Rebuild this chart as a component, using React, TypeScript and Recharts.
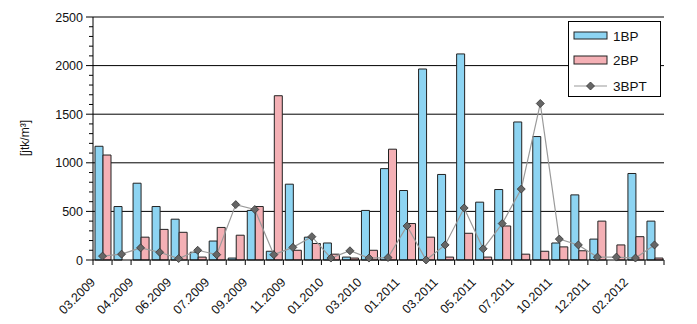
import { Bar, CartesianGrid, ComposedChart, Line, XAxis, YAxis } from "recharts"

// tick labels: only every second sampling is labelled on the axis
const tickLabels = [
  "03.2009", "04.2009", "06.2009", "07.2009", "09.2009", "11.2009", "01.2010", "03.2010",
  "01.2011", "03.2011", "05.2011", "07.2011", "10.2011", "12.2011", "02.2012",
]
const categories = Array.from({ length: 30 }, (_, i) => (i % 2 === 0 ? tickLabels[i / 2] : ""))

const bp1 = [1170, 550, 790, 550, 420, 80, 195, 20, 510, 90, 780, 235, 175, 30, 510, 940, 715, 1965, 880, 2120, 595, 725, 1420, 1270, 175, 670, 215, 0, 890, 400]
const bp2 = [1080, 0, 235, 315, 285, 30, 335, 255, 550, 1690, 100, 170, 60, 20, 100, 1140, 375, 235, 30, 275, 30, 350, 60, 90, 135, 95, 400, 155, 240, 20]
const bpt3 = [40, 60, 125, 80, 15, 100, 55, 570, 520, 55, 130, 240, 20, 95, 20, 25, 350, 0, 155, 535, 115, 375, 730, 1610, 215, 155, 30, 30, 20, 155]

const yTicks = Array.from({ length: 26 }, (_, i) => i * 100)
const gridValues = [500, 1000, 1500, 2000, 2500]

const BLUE = "#8dd4f2"
const PINK = "#f4b0b5"
const FONT = "'Liberation Sans Narrow', 'Arial Narrow', 'Liberation Sans', Arial, sans-serif"

const data = categories.map((c, i) => ({ cat: c, bp1: bp1[i], bp2: bp2[i], bpt3: bpt3[i] }))

const XTick = (props: any) => {
  const { x, y, payload, index } = props
  const half = payload?.offset || 9.5
  const bx = x - half
  const ty = y + 23
  return (
    <g>
      <line x1={bx} y1={y} x2={bx} y2={y + 5} stroke="#000" />
      {index === categories.length - 1 && (
        <line x1={x + half} y1={y} x2={x + half} y2={y + 5} stroke="#000" />
      )}
      {payload.value && (
        <text
          x={bx + 3}
          y={ty}
          textAnchor="end"
          fontSize={12.5}
          fill="#111"
          transform={`rotate(-45 ${bx + 3} ${ty})`}
        >
          {payload.value}
        </text>
      )}
    </g>
  )
}

const YTick = (props: any) => {
  const { x, y, payload } = props
  const major = payload.value % 500 === 0
  return (
    <g>
      <line x1={x - (major ? 7 : 4)} y1={y} x2={x} y2={y} stroke="#000" />
      {major && (
        <text x={x - 10} y={y + 4.5} textAnchor="end" fontSize={12.5} fill="#111">
          {payload.value}
        </text>
      )}
    </g>
  )
}

const Diamond = (props: any) => {
  const { cx, cy, index } = props
  if (cx == null || cy == null) return <g key={index} />
  const r = 4
  return (
    <polygon
      key={index}
      points={`${cx},${cy - r} ${cx + r},${cy} ${cx},${cy + r} ${cx - r},${cy}`}
      fill="#666"
      stroke="#333"
      strokeWidth={0.8}
    />
  )
}

const LegendBox = () => (
  <div
    style={{
      position: "absolute",
      left: 568,
      top: 21,
      border: "1px solid #000",
      background: "#fff",
      width: 93,
      height: 76,
      boxSizing: "border-box",
    }}
  >
    <svg width={91} height={74} style={{ display: "block", fontFamily: FONT }}>
      <rect x={5} y={10} width={33} height={7} fill={BLUE} stroke="#222" />
      <text x={44} y={19} fontSize={13.5} fill="#111">1BP</text>
      <rect x={5} y={34} width={33} height={8} fill={PINK} stroke="#222" />
      <text x={44} y={43} fontSize={13.5} fill="#111">2BP</text>
      <line x1={5} y1={64} x2={38} y2={64} stroke="#999" strokeWidth={1.2} />
      <polygon points="21.5,60 25.5,64 21.5,68 17.5,64" fill="#666" stroke="#333" strokeWidth={0.8} />
      <text x={44} y={69} fontSize={13.5} fill="#111">3BPT</text>
    </svg>
  </div>
)

export default function App() {
  return (
    <div style={{ position: "absolute", left: 0, top: 0, width: 697, height: 324, fontFamily: FONT, background: "#fff" }}>
      <ComposedChart
        width={697}
        height={324}
        data={data}
        margin={{ top: 17, right: 33, bottom: 0, left: 0 }}
        barGap={0}
        barSize={8}
      >
        <CartesianGrid horizontalValues={gridValues} vertical={false} stroke="#000" />
        <XAxis
          dataKey="cat"
          interval={0}
          height={64}
          tickLine={false}
          tickSize={0}
          tickMargin={0}
          axisLine={{ stroke: "#000" }}
          tick={<XTick />}
        />
        <YAxis
          domain={[0, 2500]}
          ticks={yTicks}
          interval={0}
          width={93}
          tickLine={false}
          tickSize={0}
          tickMargin={0}
          axisLine={{ stroke: "#000" }}
          tick={<YTick />}
          label={{
            content: () => (
              <text
                x={29}
                y={138}
                textAnchor="middle"
                fontSize={12}
                fill="#111"
                transform="rotate(-90 29 138)"
              >
                [jtk/m³]
              </text>
            ),
          }}
        />
        <YAxis
          yAxisId="right"
          orientation="right"
          domain={[0, 2500]}
          width={0}
          tick={false}
          tickLine={false}
          axisLine={{ stroke: "#000" }}
        />
        <Bar dataKey="bp1" name="1BP" fill={BLUE} stroke="#222" strokeWidth={1} isAnimationActive={false} />
        <Bar dataKey="bp2" name="2BP" fill={PINK} stroke="#222" strokeWidth={1} isAnimationActive={false} />
        <Line
          dataKey="bpt3"
          name="3BPT"
          stroke="#9a9a9a"
          strokeWidth={1.2}
          dot={Diamond}
          activeDot={false}
          isAnimationActive={false}
        />
      </ComposedChart>
      <LegendBox />
    </div>
  )
}
